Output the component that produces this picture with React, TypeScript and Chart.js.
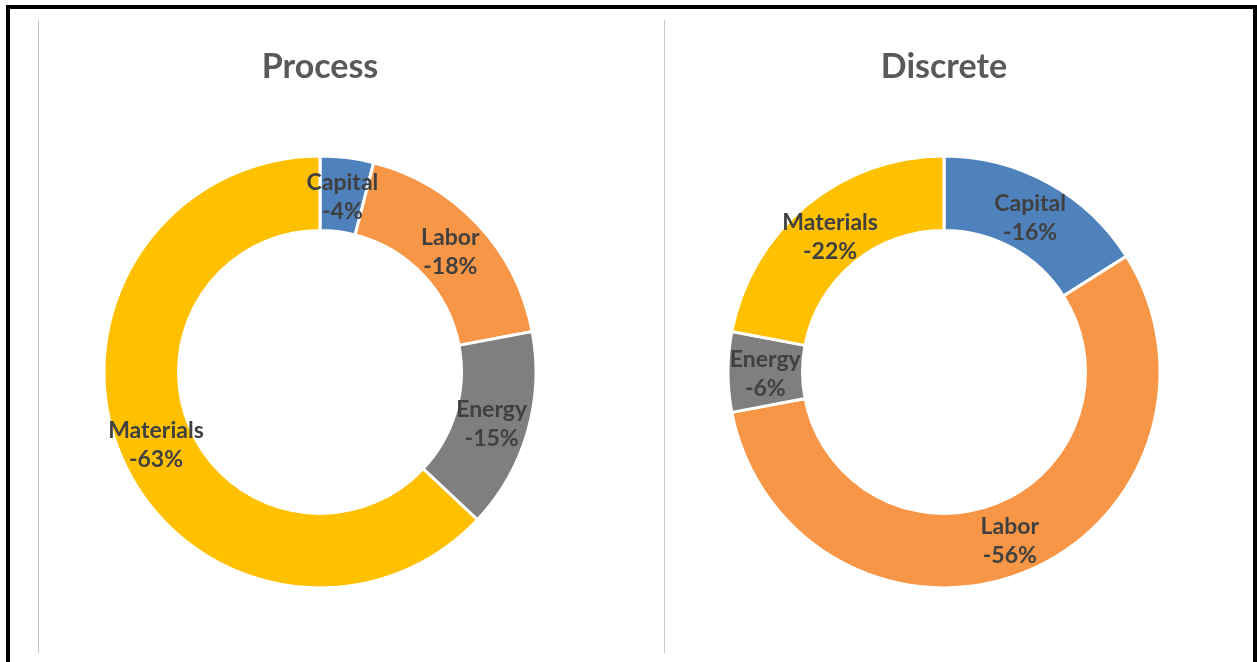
import React, { useEffect, useRef } from 'react';
import { Chart, registerables } from 'chart.js';

Chart.register(...registerables);

const categories = ['Capital', 'Labor', 'Energy', 'Materials'];
const processValues = [-4, -18, -15, -63];
const discreteValues = [-16, -56, -6, -22];
const sliceColors = ['#4F81BD', '#F79646', '#7F7F7F', '#FFC000'];
const processTitle = 'Process';
const discreteTitle = 'Discrete';

const sliceLabelPlugin = {
  id: 'sliceLabels',
  afterDatasetsDraw(chart: any) {
    const ctx = chart.ctx;
    const meta = chart.getDatasetMeta(0);
    const data = chart.data.datasets[0].data;
    ctx.save();
    ctx.font = 'bold 23px Lato';
    ctx.fillStyle = '#404040';
    ctx.textAlign = 'center';
    ctx.textBaseline = 'middle';
    meta.data.forEach((arc: any, i: number) => {
      const p = arc.getCenterPoint();
      ctx.fillText(String(chart.data.labels[i]), p.x, p.y - 12);
      ctx.fillText(`${data[i]}%`, p.x, p.y + 17);
    });
    ctx.restore();
  },
};

function Donut({ title, values, left }: { title: string; values: number[]; left: number }) {
  const ref = useRef<HTMLCanvasElement | null>(null);
  useEffect(() => {
    if (!ref.current) return;
    const chart = new Chart(ref.current, {
      type: 'doughnut',
      data: {
        labels: categories,
        datasets: [
          {
            data: values,
            backgroundColor: sliceColors,
            borderColor: '#FFFFFF',
            borderWidth: 3,
          },
        ],
      },
      options: {
        responsive: false,
        maintainAspectRatio: false,
        animation: false,
        radius: 216,
        cutout: '65.5%',
        layout: { padding: 0 },
        plugins: {
          legend: { display: false },
          tooltip: { enabled: false },
          title: {
            display: true,
            text: title,
            color: '#595959',
            font: { family: 'Lato', size: 34, weight: 'bold' },
            padding: { top: 27, bottom: 6 },
          },
        },
      } as any,
      plugins: [sliceLabelPlugin],
    });
    return () => chart.destroy();
  }, [title, values]);
  return (
    <canvas
      ref={ref}
      width={560}
      height={630}
      style={{ position: 'absolute', left, top: 20, width: 560, height: 630 }}
    />
  );
}

export default function App() {
  useEffect(() => {
    document.body.style.margin = '0';
  }, []);
  return (
    <div
      style={{
        position: 'fixed',
        left: 0,
        top: 0,
        width: 1257,
        height: 662,
        overflow: 'hidden',
        background: '#FFFFFF',
      }}
    >
      <div
        style={{
          position: 'absolute',
          left: 6,
          top: 5,
          width: 1243,
          height: 720,
          border: '4px solid #000000',
        }}
      />
      <div style={{ position: 'absolute', left: 38, top: 20, width: 1, height: 633, background: '#C8C8C8' }} />
      <div style={{ position: 'absolute', left: 664, top: 20, width: 1, height: 633, background: '#C8C8C8' }} />
      <Donut title={processTitle} values={processValues} left={40} />
      <Donut title={discreteTitle} values={discreteValues} left={664} />
    </div>
  );
}
